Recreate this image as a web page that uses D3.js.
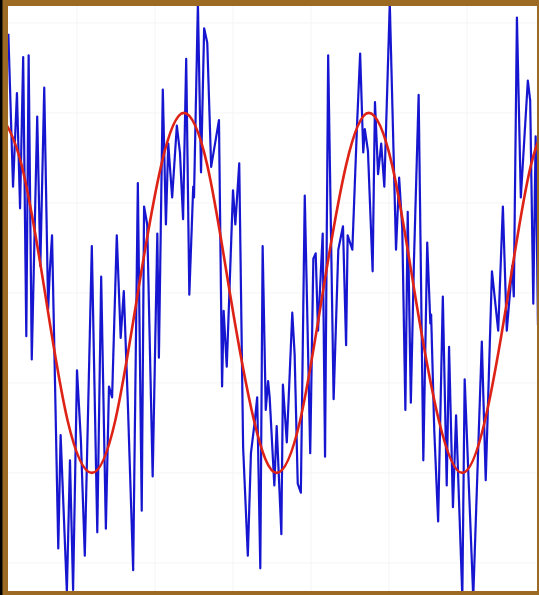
<!DOCTYPE html>
<html>
<head>
<meta charset="utf-8">
<script src="https://cdn.jsdelivr.net/npm/d3@7"></script>
<style>
  html, body { margin: 0; padding: 0; background: #000; }
  svg { display: block; }
</style>
</head>
<body>
<svg id="chart" width="539" height="595"></svg>
<script>
// Noisy measurement (time, value)
const noisyT = [0.12,0.18,0.23,0.27,0.31,0.35,0.38,0.42,0.49,0.53,0.58,0.63,0.65,0.68,0.72,0.76,0.79,0.87,0.91,0.95,
  1.00,1.05,1.10,1.19,1.26,1.31,1.37,1.41,1.45,1.51,1.56,1.60,1.65,1.72,1.78,1.83,1.86,1.90,1.97,2.03,
  2.05,2.10,2.14,2.17,2.22,2.28,2.32,2.36,2.40,2.44,2.49,2.50,2.55,2.59,2.63,2.67,2.72,2.82,2.86,2.88,
  2.92,3.00,3.03,3.08,3.13,3.19,3.23,3.28,3.31,3.35,3.38,3.42,3.45,3.47,3.53,3.56,3.62,3.64,3.69,3.76,
  3.79,3.83,3.87,3.92,3.99,4.03,4.06,4.09,4.15,4.18,4.22,4.29,4.35,4.41,4.45,4.47,4.53,4.59,4.63,4.67,
  4.69,4.73,4.79,4.82,4.86,4.90,4.94,5.01,5.09,5.13,5.17,5.21,5.24,5.28,5.32,5.38,5.44,5.49,5.53,5.54,
  5.58,5.63,5.69,5.74,5.77,5.82,5.86,5.94,5.97,6.08,6.19,6.24,6.32,6.40,6.46,6.51,6.58,6.60,6.64,6.69,
  6.78,6.81,6.85,6.88,6.91];
const noisyV = [1.44,0.59,1.11,0.47,1.31,-0.24,1.32,-0.37,0.98,0.15,1.14,-0.09,0.11,0.32,-0.54,-1.42,-0.79,-1.66,-0.93,-1.65,
  -0.43,-0.82,-1.46,0.26,-1.33,0.09,-1.31,-0.52,-0.58,0.32,-0.25,0.01,-0.59,-1.54,0.61,-1.21,0.48,0.38,-1.02,0.33,
  -0.36,1.13,0.38,0.83,0.53,0.93,0.78,0.41,1.30,-0.01,0.59,0.53,1.61,0.67,1.47,1.39,0.70,0.96,-0.52,-0.10,
  -0.41,0.57,0.38,0.72,-0.86,-1.46,-0.89,-0.71,-0.58,-1.53,0.26,-0.65,-0.49,-0.58,-1.07,-0.74,-1.34,-0.51,-0.83,-0.11,
  -0.34,-1.06,-1.11,0.54,-0.89,0.19,0.22,-0.21,0.33,-0.91,1.32,-0.59,0.24,0.37,-0.29,0.32,0.24,0.93,1.33,0.78,
  0.91,0.79,0.12,1.06,0.66,0.83,0.59,1.61,0.24,0.64,0.36,-0.65,0.45,-0.61,0.18,1.10,-0.93,0.28,-0.17,-0.12,
  -0.76,-1.27,-0.02,-1.07,-0.30,-1.19,-0.68,-1.69,-0.48,-1.69,-0.27,-1.04,0.12,-0.21,0.48,-0.21,0.15,-0.02,1.53,0.53,
  1.18,1.07,-0.06,0.87,-0.18];

// Underlying signal, sampled at eighth-period steps
const signalT = [0.00,0.29,0.59,0.88,1.19,1.49,1.78,2.08,2.37,2.67,2.96,3.27,3.56,3.86,4.15,4.45,4.74,5.04,5.33,5.64,5.94,6.23,6.53,6.82,7.11];
const signalV = [1.00,0.71,0.00,-0.71,-1.00,-0.71,0.00,0.71,1.00,0.71,0.00,-0.71,-1.00,-0.71,0.00,0.71,1.00,0.71,0.00,-0.71,-1.00,-0.71,0.00,0.71,1.00];

// Grid positions
const gridT = [1, 2, 3, 4, 5, 6];
const gridV = [-1.5, -1, -0.5, 0, 0.5, 1, 1.5];

const W = 539, H = 595;
const plot = { left: 8, right: 537, top: 6, bottom: 591 };

const svg = d3.select("#chart");

// Slight softening of the traces
const defs = svg.append("defs");
defs.append("filter").attr("id", "soft")
  .attr("x", "-5%").attr("y", "-5%").attr("width", "110%").attr("height", "110%")
  .append("feGaussianBlur").attr("stdDeviation", 0.45);

// Frame
svg.append("rect").attr("x", 0).attr("y", 0).attr("width", W).attr("height", H).attr("fill", "#000");
svg.append("rect").attr("x", 2.5).attr("y", 0).attr("width", W - 2.5).attr("height", H).attr("fill", "#9d6a24");
svg.append("rect")
  .attr("x", plot.left).attr("y", plot.top)
  .attr("width", plot.right - plot.left).attr("height", plot.bottom - plot.top)
  .attr("fill", "#ffffff");

const x = d3.scaleLinear().domain([0, 6.9]).range([-1, 537.2]);
const y = d3.scaleLinear().domain([-1.656, 1.594]).range([plot.bottom, plot.top]);

defs.append("clipPath").attr("id", "plotClip")
  .append("rect")
  .attr("x", plot.left).attr("y", plot.top)
  .attr("width", plot.right - plot.left).attr("height", plot.bottom - plot.top);

const g = svg.append("g").attr("clip-path", "url(#plotClip)");

// Faint grid
g.append("g").selectAll("line").data(gridT).join("line")
  .attr("x1", d => x(d)).attr("x2", d => x(d))
  .attr("y1", plot.top).attr("y2", plot.bottom)
  .attr("stroke", "#f5f5f5").attr("stroke-width", 1);
g.append("g").selectAll("line").data(gridV).join("line")
  .attr("y1", d => y(d)).attr("y2", d => y(d))
  .attr("x1", plot.left).attr("x2", plot.right)
  .attr("stroke", "#f5f5f5").attr("stroke-width", 1);

const traces = g.append("g").attr("filter", "url(#soft)");

// Noisy trace
const noisy = noisyT.map((t, i) => [t, noisyV[i]]);
traces.append("path")
  .datum(noisy)
  .attr("fill", "none")
  .attr("stroke", "#1515d0")
  .attr("stroke-width", 2.2)
  .attr("stroke-linejoin", "round")
  .attr("d", d3.line().x(d => x(d[0])).y(d => y(d[1])));

// Smooth signal
const signal = signalT.map((t, i) => [t, signalV[i]]);
traces.append("path")
  .datum(signal)
  .attr("fill", "none")
  .attr("stroke", "#de2418")
  .attr("stroke-width", 2.6)
  .attr("d", d3.line().curve(d3.curveNatural).x(d => x(d[0])).y(d => y(d[1])));
</script>
</body>
</html>
